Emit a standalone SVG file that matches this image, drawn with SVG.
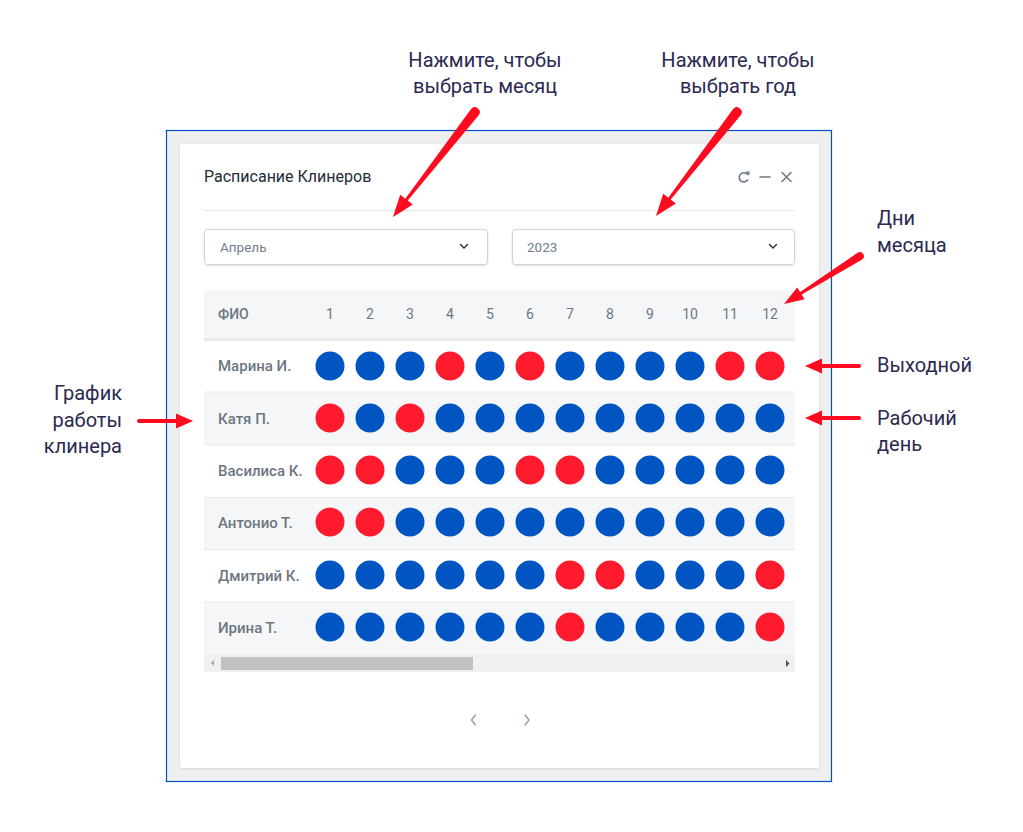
<svg xmlns="http://www.w3.org/2000/svg" width="1023" height="832" viewBox="0 0 1023 832">
<defs>
<style>
.ann{font-family:Roboto,"Noto Sans",sans-serif;font-size:20px;fill:#2b2950}
.title{font-family:Roboto,"Noto Sans",sans-serif;font-size:16px;font-weight:400;fill:#222c36}
.sel{font-family:Roboto,"Noto Sans",sans-serif;font-size:13.5px;fill:#6f7d8c}
.hd{font-family:Roboto,"Noto Sans",sans-serif;font-size:14px;font-weight:500;fill:#6c7681}
.num{font-family:Roboto,"Noto Sans",sans-serif;font-size:14px;fill:#6c7681;text-anchor:middle}
.nm{font-family:Roboto,"Noto Sans",sans-serif;font-size:15px;font-weight:500;fill:#6c7681}
.b{fill:#0055c2}
.r{fill:#ff1a2e}
.alt{fill:#f5f6f8}
.sep{stroke:#e8eaed;stroke-width:1}
.ico{stroke:#6c7a89;stroke-width:1.6;fill:none;stroke-linecap:round}
.chev{stroke:#2f3640;stroke-width:1.5;fill:none;stroke-linecap:round;stroke-linejoin:round}
.pg{stroke:#9aa6b2;stroke-width:1.6;fill:none;stroke-linecap:round;stroke-linejoin:round}
.arr{fill:#ff0a1e}
.arrl{stroke:#ff0a1e;stroke-width:4;stroke-linecap:round}
</style>
<filter id="sh" x="-5%" y="-5%" width="110%" height="120%">
<feDropShadow dx="0" dy="1" stdDeviation="1" flood-color="#000" flood-opacity="0.12"/>
</filter>
</defs>
<rect width="1023" height="832" fill="#ffffff"/>

<g id="frame">
<rect x="166.5" y="130.5" width="665" height="651" fill="#efefef" stroke="#0050c8" stroke-width="1.2"/>
<rect x="180" y="144" width="639" height="624" rx="3" fill="#ffffff" filter="url(#sh)"/>
</g>

<g id="header">
<text class="title" x="204" y="182">Расписание Клинеров</text>
<path class="ico" d="M747.5,174.5 A4.6,4.6 0 1 0 747.6,180"/>
<path d="M745.5,171.5 L749.5,171.5 L749.5,175.5 Z" fill="#6c7a89"/>
<line class="ico" x1="760" y1="177" x2="770" y2="177"/>
<line class="ico" x1="782" y1="172.5" x2="791" y2="181.5"/>
<line class="ico" x1="791" y1="172.5" x2="782" y2="181.5"/>
<line x1="204" y1="210.5" x2="795" y2="210.5" stroke="#e3e5e8" stroke-width="1"/>
</g>

<g id="month-select">
<rect x="204.5" y="229.5" width="283" height="35" rx="3" fill="#fff" stroke="#cfd3d8" filter="url(#sh)"/>
<text class="sel" x="220" y="251.5">Апрель</text>
<path class="chev" d="M460.5,244.5 L464,248 L467.5,244.5"/>
</g>

<g id="year-select">
<rect x="512.5" y="229.5" width="282" height="35" rx="3" fill="#fff" stroke="#cfd3d8" filter="url(#sh)"/>
<text class="sel" x="527" y="251.5">2023</text>
<path class="chev" d="M769.5,244.5 L773,248 L776.5,244.5"/>
</g>

<g id="table">
<rect x="204" y="290" width="591" height="48" class="alt"/>
<rect x="204" y="338" width="591" height="3" fill="#e9eaee"/>
<text class="hd" x="218" y="319">ФИО</text>
<g class="num-row">
<text class="num" x="330" y="319">1</text>
<text class="num" x="370" y="319">2</text>
<text class="num" x="410" y="319">3</text>
<text class="num" x="450" y="319">4</text>
<text class="num" x="490" y="319">5</text>
<text class="num" x="530" y="319">6</text>
<text class="num" x="570" y="319">7</text>
<text class="num" x="610" y="319">8</text>
<text class="num" x="650" y="319">9</text>
<text class="num" x="690" y="319">10</text>
<text class="num" x="730" y="319">11</text>
<text class="num" x="770" y="319">12</text>
</g>
<rect x="204" y="392.5" width="591" height="52.5" class="alt"/>
<rect x="204" y="497.5" width="591" height="52" class="alt"/>
<rect x="204" y="602" width="591" height="52" class="alt"/>
<line class="sep" x1="204" y1="392" x2="795" y2="392"/>
<line class="sep" x1="204" y1="445" x2="795" y2="445"/>
<line class="sep" x1="204" y1="497.5" x2="795" y2="497.5"/>
<line class="sep" x1="204" y1="549.5" x2="795" y2="549.5"/>
<line class="sep" x1="204" y1="602" x2="795" y2="602"/>
</g>

<g id="row-marina">
<text class="nm" x="218" y="371">Марина И.</text>
<circle class="b" cx="330" cy="366" r="14.5"/><circle class="b" cx="370" cy="366" r="14.5"/><circle class="b" cx="410" cy="366" r="14.5"/><circle class="r" cx="450" cy="366" r="14.5"/><circle class="b" cx="490" cy="366" r="14.5"/><circle class="r" cx="530" cy="366" r="14.5"/><circle class="b" cx="570" cy="366" r="14.5"/><circle class="b" cx="610" cy="366" r="14.5"/><circle class="b" cx="650" cy="366" r="14.5"/><circle class="b" cx="690" cy="366" r="14.5"/><circle class="r" cx="730" cy="366" r="14.5"/><circle class="r" cx="770" cy="366" r="14.5"/>
</g>
<g id="row-katya">
<text class="nm" x="218" y="424">Катя П.</text>
<circle class="r" cx="330" cy="418" r="14.5"/><circle class="b" cx="370" cy="418" r="14.5"/><circle class="r" cx="410" cy="418" r="14.5"/><circle class="b" cx="450" cy="418" r="14.5"/><circle class="b" cx="490" cy="418" r="14.5"/><circle class="b" cx="530" cy="418" r="14.5"/><circle class="b" cx="570" cy="418" r="14.5"/><circle class="b" cx="610" cy="418" r="14.5"/><circle class="b" cx="650" cy="418" r="14.5"/><circle class="b" cx="690" cy="418" r="14.5"/><circle class="b" cx="730" cy="418" r="14.5"/><circle class="b" cx="770" cy="418" r="14.5"/>
</g>
<g id="row-vasilisa">
<text class="nm" x="218" y="476">Василиса К.</text>
<circle class="r" cx="330" cy="470" r="14.5"/><circle class="r" cx="370" cy="470" r="14.5"/><circle class="b" cx="410" cy="470" r="14.5"/><circle class="b" cx="450" cy="470" r="14.5"/><circle class="b" cx="490" cy="470" r="14.5"/><circle class="r" cx="530" cy="470" r="14.5"/><circle class="r" cx="570" cy="470" r="14.5"/><circle class="b" cx="610" cy="470" r="14.5"/><circle class="b" cx="650" cy="470" r="14.5"/><circle class="b" cx="690" cy="470" r="14.5"/><circle class="b" cx="730" cy="470" r="14.5"/><circle class="b" cx="770" cy="470" r="14.5"/>
</g>
<g id="row-antonio">
<text class="nm" x="218" y="528">Антонио Т.</text>
<circle class="r" cx="330" cy="522" r="14.5"/><circle class="r" cx="370" cy="522" r="14.5"/><circle class="b" cx="410" cy="522" r="14.5"/><circle class="b" cx="450" cy="522" r="14.5"/><circle class="b" cx="490" cy="522" r="14.5"/><circle class="b" cx="530" cy="522" r="14.5"/><circle class="b" cx="570" cy="522" r="14.5"/><circle class="b" cx="610" cy="522" r="14.5"/><circle class="b" cx="650" cy="522" r="14.5"/><circle class="b" cx="690" cy="522" r="14.5"/><circle class="b" cx="730" cy="522" r="14.5"/><circle class="b" cx="770" cy="522" r="14.5"/>
</g>
<g id="row-dmitry">
<text class="nm" x="218" y="581">Дмитрий К.</text>
<circle class="b" cx="330" cy="575" r="14.5"/><circle class="b" cx="370" cy="575" r="14.5"/><circle class="b" cx="410" cy="575" r="14.5"/><circle class="b" cx="450" cy="575" r="14.5"/><circle class="b" cx="490" cy="575" r="14.5"/><circle class="b" cx="530" cy="575" r="14.5"/><circle class="r" cx="570" cy="575" r="14.5"/><circle class="r" cx="610" cy="575" r="14.5"/><circle class="b" cx="650" cy="575" r="14.5"/><circle class="b" cx="690" cy="575" r="14.5"/><circle class="b" cx="730" cy="575" r="14.5"/><circle class="r" cx="770" cy="575" r="14.5"/>
</g>
<g id="row-irina">
<text class="nm" x="218" y="633">Ирина Т.</text>
<circle class="b" cx="330" cy="627" r="14.5"/><circle class="b" cx="370" cy="627" r="14.5"/><circle class="b" cx="410" cy="627" r="14.5"/><circle class="b" cx="450" cy="627" r="14.5"/><circle class="b" cx="490" cy="627" r="14.5"/><circle class="b" cx="530" cy="627" r="14.5"/><circle class="r" cx="570" cy="627" r="14.5"/><circle class="b" cx="610" cy="627" r="14.5"/><circle class="b" cx="650" cy="627" r="14.5"/><circle class="b" cx="690" cy="627" r="14.5"/><circle class="b" cx="730" cy="627" r="14.5"/><circle class="r" cx="770" cy="627" r="14.5"/>
</g>

<g id="scrollbar">
<rect x="204" y="654" width="591" height="18" fill="#f0f0f0"/>
<rect x="221" y="657" width="252" height="13" fill="#c1c1c1"/>
<path d="M214,660 L214,666 L211,663 Z" fill="#a3a3a3"/>
<path d="M786,660 L786,667 L789.5,663.5 Z" fill="#505050"/>
</g>

<g id="pagination">
<path class="pg" d="M475.5,715 L471.5,720 L475.5,725"/>
<path class="pg" d="M525,715 L529,720 L525,725"/>
</g>

<g id="annotations">
<text class="ann" x="485" y="67" text-anchor="middle">Нажмите, чтобы</text>
<text class="ann" x="485" y="93" text-anchor="middle">выбрать месяц</text>
<text class="ann" x="738" y="67" text-anchor="middle">Нажмите, чтобы</text>
<text class="ann" x="738" y="93" text-anchor="middle">выбрать год</text>
<text class="ann" x="877" y="225">Дни</text>
<text class="ann" x="877" y="252">месяца</text>
<text class="ann" x="877" y="372">Выходной</text>
<text class="ann" x="877" y="425">Рабочий</text>
<text class="ann" x="877" y="451">день</text>
<text class="ann" x="122" y="400" text-anchor="end">График</text>
<text class="ann" x="122" y="427" text-anchor="end">работы</text>
<text class="ann" x="122" y="453" text-anchor="end">клинера</text>
</g>

<g id="connectors">
<path class="arr" d="M478.9,115.1 L407.7,200.6 L412.8,204.6 L393,217 L400.2,194.8 L405.3,198.8 L471.1,108.9 A5,5 0 0 1 478.9,115.1 Z"/>
<path class="arr" d="M740.9,115.1 L670.7,199.5 L675.8,203.5 L656,216 L663.2,193.7 L668.3,197.7 L733.1,108.9 A5,5 0 0 1 740.9,115.1 Z"/>
<path class="arr" d="M862.1,259.4 L801.7,294.6 L804.6,299.2 L784,304 L797.2,287.4 L800.1,292.0 L857.9,252.6 A4,4 0 0 1 862.1,259.4 Z"/>
<line class="arrl" x1="139" y1="421" x2="178" y2="421"/>
<path class="arr" d="M176,413.5 L193,421 L176,428.5 Z"/>
<line class="arrl" x1="859" y1="366" x2="820" y2="366"/>
<path class="arr" d="M822,358.5 L805,366 L822,373.5 Z"/>
<line class="arrl" x1="859" y1="418" x2="820" y2="418"/>
<path class="arr" d="M822,410.5 L805,418 L822,425.5 Z"/>
</g>
</svg>
